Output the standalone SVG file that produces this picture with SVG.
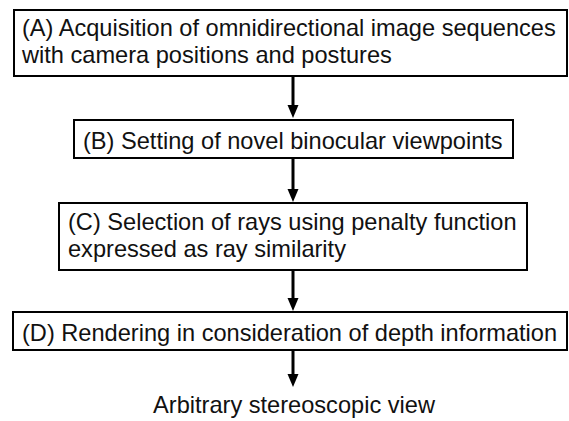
<svg xmlns="http://www.w3.org/2000/svg" width="569" height="421" viewBox="0 0 569 421">
  <style>
    .box { fill: #ffffff; stroke: #000000; stroke-width: 2; }
    .lbl { font-family: "Liberation Sans", Arial, sans-serif; font-size: 23.6px; fill: #111111; }
    .conn { stroke: #000000; stroke-width: 3; fill: none; }
  </style>
  <defs>
    <marker id="ah" markerUnits="userSpaceOnUse" markerWidth="12" markerHeight="12" viewBox="0 0 12 12" refX="6" refY="12" orient="auto-start-reverse">
      <path d="M0,0 L12,0 L6,12 Z" fill="#000000"/>
    </marker>
  </defs>
  <rect width="569" height="421" fill="#ffffff"/>

  <g id="connectors">
    <line class="conn" x1="293" y1="77" x2="293" y2="107"/>
    <polygon points="287.5,105 298.5,105 293,118" fill="#000"/>
    <line class="conn" x1="293" y1="159" x2="293" y2="190"/>
    <polygon points="287.5,189 298.5,189 293,202" fill="#000"/>
    <line class="conn" x1="293" y1="271" x2="293" y2="300"/>
    <polygon points="287.5,298 298.5,298 293,311" fill="#000"/>
    <line class="conn" x1="293" y1="351" x2="293" y2="376"/>
    <polygon points="287.5,374 298.5,374 293,387" fill="#000"/>
  </g>

  <g id="nodeA">
    <rect class="box" x="14" y="10" width="553" height="66"/>
    <text class="lbl" x="22" y="36">(A) Acquisition of omnidirectional image sequences</text>
    <text class="lbl" x="22" y="63">with camera positions and postures</text>
  </g>

  <g id="nodeB">
    <rect class="box" x="74" y="120" width="439" height="38"/>
    <text class="lbl" x="83" y="149">(B) Setting of novel binocular viewpoints</text>
  </g>

  <g id="nodeC">
    <rect class="box" x="59" y="203" width="468" height="67"/>
    <text class="lbl" x="68" y="230">(C) Selection of rays using penalty function</text>
    <text class="lbl" x="68" y="257">expressed as ray similarity</text>
  </g>

  <g id="nodeD">
    <rect class="box" x="13" y="312" width="554" height="38"/>
    <text class="lbl" x="22" y="341">(D) Rendering in consideration of depth information</text>
  </g>

  <g id="output">
    <text class="lbl" x="294" y="413" text-anchor="middle">Arbitrary stereoscopic view</text>
  </g>
</svg>
